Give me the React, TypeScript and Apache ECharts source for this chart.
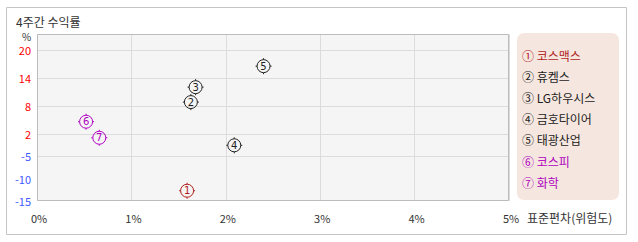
import React, { useEffect, useRef } from "react";
import * as echarts from "echarts";

// ---- data ----
const names = ["코스맥스", "휴켐스", "LG하우시스", "금호타이어", "태광산업", "코스피", "화학"];
const marks = ["①", "②", "③", "④", "⑤", "⑥", "⑦"];
const digits = ["1", "2", "3", "4", "5", "6", "7"];
const risk = [1.59, 1.63, 1.68, 2.09, 2.4, 0.52, 0.66]; // 표준편차 %
const returns = [-12.7, 8.9, 12.1, -1.5, 16.6, 4.7, 0.9]; // 4주간 수익률 %
const colors = ["#b01c1c", "#222222", "#222222", "#222222", "#222222", "#b000c0", "#b000c0"];
const yLabelsUpper = [2, 8, 14, 20];
const yLabelsMid = [-5];
const yLabelsLower = [-10, -15];

const FONT = "'Noto Sans CJK KR', 'Noto Sans', sans-serif";

// the value axis is drawn in three linear bands (positive / small negative / large negative)
const bands = [
  { min: 2, max: 23.49, top: 34, height: 100.3, labels: yLabelsUpper, lines: yLabelsUpper },
  { min: -5, max: 2, top: 134.3, height: 22, labels: yLabelsMid, lines: yLabelsMid },
  { min: -15, max: -5, top: 156.3, height: 44.7, labels: yLabelsLower, lines: null as number[] | null },
];

const symbolPath =
  "path://M1.5 8 A6.5 6.5 0 1 0 14.5 8 A6.5 6.5 0 1 0 1.5 8 Z M8 0 L8 1.5 M8 14.5 L8 16 M0 8 L1.5 8 M14.5 8 L16 8";

function bandOf(v: number) {
  if (v >= bands[0].min) return 0;
  if (v >= bands[1].min) return 1;
  return 2;
}

export default function App() {
  const ref = useRef<HTMLDivElement>(null);
  useEffect(() => {
    document.body.style.margin = "0";
    const chart = echarts.init(ref.current!, undefined, { renderer: "svg" });
    const grids = bands.map((b) => ({ left: 37, width: 472, top: b.top, height: b.height, show: false }));
    const xAxis = bands.map((b, k) => ({
      type: "value",
      gridIndex: k,
      min: 0,
      max: 5,
      interval: 1,
      axisLine: { show: false },
      axisTick: { show: false },
      splitLine: { show: true, lineStyle: { color: "#dcdcdc", width: 1 } },
      axisLabel: {
        show: k === 2,
        formatter: "{value}%",
        color: "#333",
        fontSize: 11,
        margin: 11,
        padding: [0, 0, 0, 4],
        fontFamily: FONT,
      },
    }));
    const yAxis = bands.map((b, k) => ({
      type: "value",
      gridIndex: k,
      min: b.min,
      max: b.max,
      axisLine: { show: false },
      axisTick: { show: false, customValues: b.lines || b.labels },
      splitLine: { show: !!b.lines, lineStyle: { color: "#dcdcdc", width: 1 } },
      axisLabel: {
        customValues: b.labels,
        fontSize: 11,
        lineHeight: 11,
        margin: 6,
        fontFamily: FONT,
        color: (v: any) => (Number(v) > 0 ? "#ff0000" : "#3f5bff"),
      },
    }));
    const series = names.map((n, i) => {
      const k = bandOf(returns[i]);
      return {
        name: n,
        type: "scatter",
        xAxisIndex: k,
        yAxisIndex: k,
        symbol: symbolPath,
        symbolSize: 16,
        itemStyle: { color: "rgba(0,0,0,0)", borderColor: colors[i], borderWidth: 1, opacity: 1 },
        label: {
          show: true,
          position: "inside",
          formatter: digits[i],
          color: colors[i],
          fontSize: 10,
          fontFamily: "'DejaVu Sans', sans-serif",
        },
        data: [[risk[i], returns[i]]],
        z: 5,
      };
    });
    const legendTexts = names.map((n, i) => ({
      type: "text",
      x: 522,
      y: 55 + i * 21.2,
      style: {
        text: `${marks[i]} ${n}`,
        fill: colors[i],
        font: `12px ${FONT}`,
        textVerticalAlign: "middle",
      },
      z: 20,
    }));
    chart.setOption({
      animation: false,
      title: {
        text: "4주간 수익률",
        left: 16,
        top: 15,
        padding: 0,
        textStyle: { fontSize: 12, lineHeight: 12, fontWeight: "normal", color: "#333", fontFamily: FONT },
      },
      grid: grids,
      xAxis,
      yAxis,
      series,
      graphic: [
        {
          type: "rect",
          shape: { x: 6.5, y: 7.5, width: 620, height: 227 },
          style: { fill: "#fff", stroke: "#c4c4c4", lineWidth: 1 },
          z: -20,
        },
        {
          type: "rect",
          shape: { x: 37, y: 34, width: 472, height: 167 },
          style: { fill: "#f5f5f5" },
          z: -10,
        },
        {
          type: "rect",
          shape: { x: 37.5, y: 34.5, width: 471, height: 166 },
          style: { fill: "none", stroke: "#bcbcbc", lineWidth: 1 },
          z: 10,
        },
        {
          type: "rect",
          shape: { x: 517, y: 33, width: 102, height: 167, r: 7 },
          style: { fill: "#f5e7df" },
          z: 1,
        },
        ...legendTexts,
        {
          type: "text",
          x: 22,
          y: 36,
          style: { text: "%", fill: "#333", font: `10px ${FONT}`, lineHeight: 10, textVerticalAlign: "middle" },
        },
        {
          type: "text",
          x: 527,
          y: 217,
          style: { text: "표준편차(위험도)", fill: "#333", font: `12px ${FONT}`, textVerticalAlign: "middle" },
        },
      ],
    });
    return () => chart.dispose();
  }, []);
  return <div ref={ref} style={{ width: 638, height: 242 }} />;
}
